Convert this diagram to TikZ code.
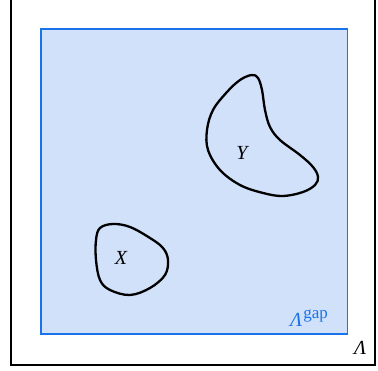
\documentclass[tikz,border=0pt]{standalone}
\usepackage{fontspec}
\setmainfont{Liberation Serif}
\begin{document}
\begin{tikzpicture}[x=1pt,y=-1pt,
  lbl/.style={inner sep=0pt,font=\fontsize{20}{24}\selectfont},
  blob/.style={line width=2.3pt,line join=round}]
\definecolor{gapblue}{RGB}{26,115,232}
\definecolor{gapfill}{RGB}{208,225,249}
\useasboundingbox (0,0) rectangle (378,371);
\clip (0,0) rectangle (378,371);
\fill[white] (0,0) rectangle (378,371);
% outer region Lambda
\draw[line width=2pt] (11,-1) rectangle (374.5,365);
% gap region
\draw[gapblue,fill=gapfill,line width=1.8pt] (41,29) rectangle (347.5,334);
% Y blob
\draw[blob] plot[smooth cycle,tension=0.6] coordinates {
 (251.7,75) (258,78) (262,90) (265,110) (270,127) (280,140) (300,155)
 (313,167) (318,177) (315,185) (303,192) (283,196) (263,193) (240,185)
 (220,170) (208,150) (207,130) (213,110) (227,92) (240,80)};
% X blob
\draw[blob] plot[smooth cycle,tension=0.6] coordinates {
 (100,228) (113,224) (130,227) (150,238) (163,248) (168,260) (165,275)
 (150,288) (130,295) (110,290) (100,280) (96,260) (96,240)};
\node[lbl] (Y) at (242,153) {\itshape Y};
\node[lbl] (X) at (121,258) {\itshape X};
\node[lbl,text=gapblue,anchor=base west] (Lgap) at (290,327) {\itshape Λ\upshape\kern1pt\raisebox{0.4em}{\fontsize{17}{20}\selectfont gap}};
\node[lbl,anchor=base west] (L) at (354,355) {\itshape Λ};
\end{tikzpicture}
\end{document}
